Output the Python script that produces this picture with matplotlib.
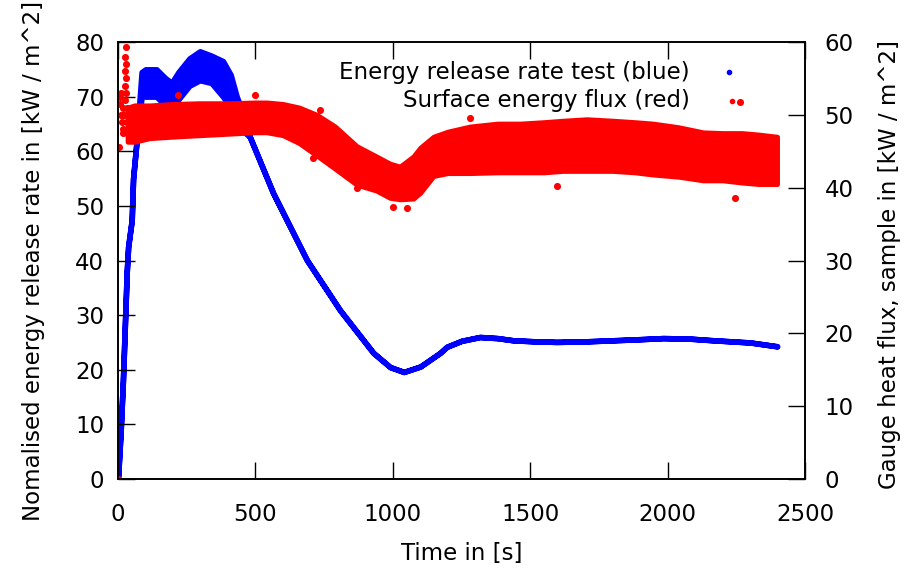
import numpy as np
import matplotlib.pyplot as plt

# Energy release rate (blue, left axis) - band
blue_t = [0, 10, 18, 32, 37, 50, 55, 68, 75, 86, 100, 140, 170, 195, 220, 260, 298,
          340, 382, 410, 432, 460, 480, 564, 687, 808, 929, 990, 1040, 1100, 1172,
          1196, 1250, 1317, 1380, 1438, 1520, 1597, 1700, 1802, 1900, 1984, 2080,
          2166, 2300, 2398]
blue_lo = [0, 9, 18, 38, 42.5, 47.4, 55, 62, 65, 70, 70, 70, 68.5, 68.5, 69.5, 72, 73,
           72.5, 70, 68, 66, 63.5, 62.6, 52.4, 40.1, 30.9, 23.1, 20.5, 19.6, 20.6, 23.1,
           24.2, 25.3, 26.0, 25.8, 25.4, 25.2, 25.1, 25.2, 25.4, 25.6, 25.8, 25.7,
           25.4, 25.0, 24.3]
blue_hi = [0, 9, 18, 38, 42.5, 47.4, 55, 62, 67, 74.5, 75, 75, 73.5, 72.5, 74.5, 77, 78.3,
           77.5, 76.5, 74, 70, 66.5, 62.6, 52.4, 40.1, 30.9, 23.1, 20.5, 19.6, 20.6, 23.1,
           24.2, 25.3, 26.0, 25.8, 25.4, 25.2, 25.1, 25.2, 25.4, 25.6, 25.8, 25.7,
           25.4, 25.0, 24.3]

# Surface energy flux (red, right axis) - band
red_t = [35, 60, 116, 200, 298, 400, 499, 541, 600, 660, 724, 790, 869, 940, 990,
         1026, 1075, 1100, 1148, 1200, 1281, 1380, 1463, 1550, 1620, 1706, 1800, 1880,
         1947, 2040, 2129, 2200, 2270, 2330, 2398]
red_hi = [51.0, 51.3, 51.3, 51.5, 51.6, 51.6, 51.7, 51.7, 51.5, 51.0, 50.0, 48.4, 45.7,
          44.3, 43.3, 42.9, 44.3, 45.5, 47.0, 47.7, 48.4, 48.8, 48.8, 49.0, 49.2, 49.4,
          49.2, 49.0, 48.8, 48.3, 47.6, 47.5, 47.5, 47.3, 47.0]
red_lo = [46.3, 46.3, 46.8, 47.0, 47.2, 47.4, 47.6, 47.6, 47.2, 46.1, 44.4, 42.6, 40.4,
          39.6, 38.6, 38.4, 38.5, 39.3, 41.6, 42.0, 42.0, 42.1, 42.1, 42.1, 42.3, 42.3,
          42.3, 42.1, 41.8, 41.5, 41.0, 41.0, 40.7, 40.5, 40.5]

# start-up spike and stray points of the red series
red_pts_t = [0, 5, 8, 8, 10, 12, 14, 16, 18, 18, 20, 22, 24, 25, 26, 27, 28, 29, 30,
             31, 32, 33, 218, 499, 710, 735, 869, 1001, 1052, 1280, 1597, 2245, 2263]
red_pts_v = [0, 45.6, 51.5, 52.5, 53, 50, 49, 50, 48, 51, 47.5, 50, 52, 54, 56, 58, 59.3,
             57, 55, 53, 51, 49, 52.7, 52.7, 44.1, 50.7, 40, 37.3, 37.2, 49.6, 40.2,
             38.6, 51.8]

FS = 16.5

plt.rcParams['font.family'] = 'DejaVu Sans'
fig = plt.figure(figsize=(9.18, 5.73), dpi=100)
ax = fig.add_axes([0.1285, 0.164, 0.7485, 0.7627])
ax2 = ax.twinx()

ax.fill_between(blue_t, blue_lo, blue_hi, color='#0000ff', edgecolor='#0000ff',
                linewidth=4)
ax2.fill_between(red_t, red_lo, red_hi, color='#ff0000', edgecolor='#ff0000',
                 linewidth=3.5)
ax2.scatter(red_pts_t, red_pts_v, s=26, color='#ff0000', linewidths=0)

ax.set_xlim(0, 2500)
ax.set_ylim(0, 80)
ax2.set_ylim(0, 60)
ax.set_xticks(range(0, 2501, 500))
ax.set_yticks(range(0, 81, 10))
ax2.set_yticks(range(0, 61, 10))

ax.tick_params(axis='both', direction='in', length=12, width=1, labelsize=FS,
               top=True, right=False)
ax.tick_params(axis='x', pad=17)
ax.tick_params(axis='y', pad=10)
ax2.tick_params(axis='y', direction='in', length=12, width=1, labelsize=FS, pad=14)
for a in (ax, ax2):
    for s in a.spines.values():
        s.set_linewidth(1.2)

ax.set_xlabel('Time in [s]', fontsize=FS)
ax.xaxis.set_label_coords(0.5, -0.145)
ax.set_ylabel('Nomalised energy release rate in [kW / m^2]', fontsize=FS)
ax.yaxis.set_label_coords(-0.106, 0.5)
ax2.set_ylabel('Gauge heat flux, sample in [kW / m^2]', fontsize=FS)
ax2.yaxis.set_label_coords(1.106, 0.49)

# gnuplot-style key: right-justified text, sample dot to the right
ax2.text(0.8326, 0.931, 'Energy release rate test (blue)', transform=ax.transAxes,
         ha='right', va='center', fontsize=FS)
ax2.text(0.8326, 0.865, 'Surface energy flux (red)', transform=ax.transAxes,
         ha='right', va='center', fontsize=FS)
ax2.plot([0.889], [0.931], 'o', ms=3, color='#0000ff', transform=ax.transAxes)
ax2.plot([0.893], [0.865], 'o', ms=3, color='#ff0000', transform=ax.transAxes)

fig.savefig('out.png', dpi=100)
